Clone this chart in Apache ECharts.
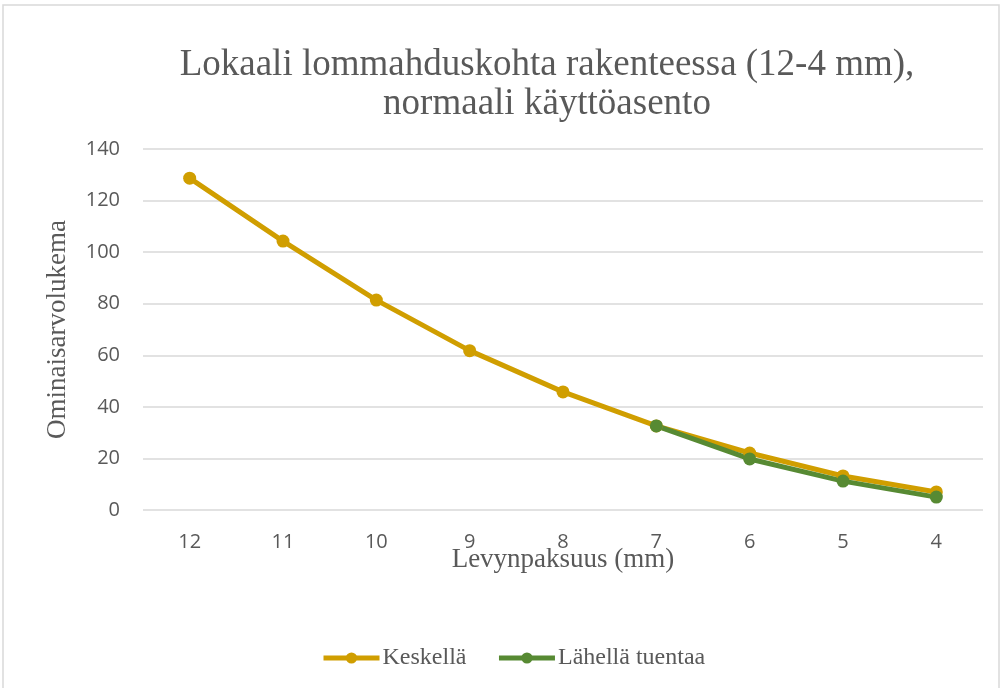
<!DOCTYPE html>
<html><head><meta charset="utf-8">
<script src="https://cdn.jsdelivr.net/npm/echarts@6/dist/echarts.min.js"></script>
<style>html,body{margin:0;padding:0;background:#fff}#c{width:1004px;height:688px}</style>
</head><body><div id="c"></div>
<script>
const categories = ['12','11','10','9','8','7','6','5','4'];
const keskella = [128.7, 104.3, 81.4, 61.8, 45.8, 32.6, 22.1, 13.2, 7.0];
const lahellaTuentaa = [null, null, null, null, null, 32.6, 19.8, 11.2, 5.0];
const seriesNames = ['Keskellä', 'Lähellä tuentaa'];
const colors = ['#D09E00', '#578A33'];
const serif = '"Liberation Serif", "Times New Roman", serif';
const sans = '"Open Sans", "Liberation Sans", sans-serif';

const chart = echarts.init(document.getElementById('c'));
chart.setOption({
  backgroundColor: '#fff',
  animation: false,
  title: {
    text: 'Lokaali lommahduskohta rakenteessa (12-4 mm),\nnormaali käyttöasento',
    left: 542, top: 41, textAlign: 'center',
    textStyle: { fontFamily: serif, fontSize: 37, fontWeight: 'normal', color: '#595959', lineHeight: 39 }
  },
  legend: {
    top: 641, left: 316, itemGap: 30, itemWidth: 56, itemHeight: 14,
    lineStyle: { width: 5 },
    textStyle: { fontFamily: serif, fontSize: 24, color: '#595959', padding: [0, 0, 0, -2] },
    data: seriesNames
  },
  grid: { left: 143, right: 21, top: 149, bottom: 178 },
  xAxis: {
    type: 'category', data: categories, boundaryGap: true,
    axisLine: { show: false }, axisTick: { show: false },
    axisLabel: { fontFamily: sans, fontSize: 20, color: '#595959', margin: 22 },
    name: 'Levynpaksuus (mm)', nameLocation: 'middle', nameGap: 36, nameMoveOverlap: false,
    nameTextStyle: { fontFamily: serif, fontSize: 27, color: '#595959' }
  },
  yAxis: {
    type: 'value', min: 0, max: 140, interval: 20,
    axisLine: { show: false }, axisTick: { show: false },
    splitLine: { lineStyle: { color: '#D9D9D9', width: 1.5 } },
    axisLabel: { fontFamily: sans, fontSize: 20, color: '#595959', margin: 23 },
    name: 'Ominaisarvolukema', nameLocation: 'middle', nameGap: 72, nameRotate: 90,
    nameTextStyle: { fontFamily: serif, fontSize: 27, color: '#595959' }
  },
  series: [
    { name: seriesNames[0], type: 'line', data: keskella, color: colors[0],
      symbol: 'circle', symbolSize: 13, lineStyle: { width: 5 } },
    { name: seriesNames[1], type: 'line', data: lahellaTuentaa, color: colors[1],
      symbol: 'circle', symbolSize: 13, lineStyle: { width: 5 } }
  ],
  graphic: [{
    type: 'rect', shape: { x: 3, y: 5, width: 996, height: 700 },
    style: { fill: 'none', stroke: '#D9D9D9', lineWidth: 1.5 }, silent: true
  }]
});
</script></body></html>
